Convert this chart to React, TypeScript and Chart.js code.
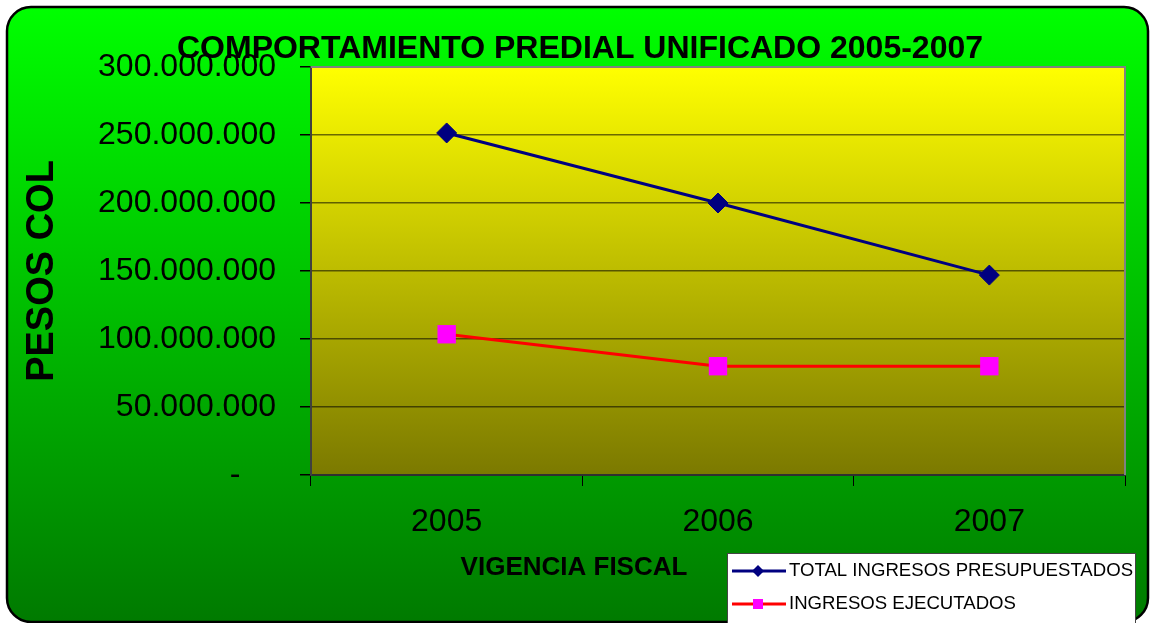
import React, { useEffect, useRef } from "react";
import { Chart, registerables } from "chart.js";

Chart.register(...registerables);

const categories = ["2005", "2006", "2007"];
const totalPresupuestado = [251500000, 200000000, 147000000];
const ingresosEjecutados = [103500000, 80000000, 80000000];
const yMin = 0;
const yMax = 300000000;
const yStep = 50000000;
const titleText = "COMPORTAMIENTO PREDIAL UNIFICADO 2005-2007";
const yTitleText = "PESOS COL";
const xTitleText = "VIGENCIA FISCAL";
const seriesLabels = ["TOTAL INGRESOS PRESUPUESTADOS", "INGRESOS EJECUTADOS"];

const FONT = '"Liberation Sans", Arial, sans-serif';
const W = 1151;
const H = 623;

function fmt(n: number): string {
  if (n === 0) return "-    ";
  return String(Math.round(n)).replace(/\B(?=(\d{3})+(?!\d))/g, ".");
}

function roundRect(ctx: CanvasRenderingContext2D, x: number, y: number, w: number, h: number, r: number) {
  ctx.beginPath();
  ctx.moveTo(x + r, y);
  ctx.lineTo(x + w - r, y);
  ctx.arcTo(x + w, y, x + w, y + r, r);
  ctx.lineTo(x + w, y + h - r);
  ctx.arcTo(x + w, y + h, x + w - r, y + h, r);
  ctx.lineTo(x + r, y + h);
  ctx.arcTo(x, y + h, x, y + h - r, r);
  ctx.lineTo(x, y + r);
  ctx.arcTo(x, y, x + r, y, r);
  ctx.closePath();
}

const decorPlugin = {
  id: "decor",
  beforeDraw(chart: any) {
    const ctx: CanvasRenderingContext2D = chart.ctx;
    ctx.save();
    ctx.fillStyle = "#ffffff";
    ctx.fillRect(0, 0, W, H);
    const g = ctx.createLinearGradient(0, 7, 0, 622);
    g.addColorStop(0, "#00ff00");
    g.addColorStop(1, "#007a00");
    roundRect(ctx, 7, 7, 1141, 615, 24);
    ctx.fillStyle = g;
    ctx.fill();
    ctx.lineWidth = 2.5;
    ctx.strokeStyle = "#000000";
    ctx.stroke();
    const a = chart.chartArea;
    const pg = ctx.createLinearGradient(0, a.top, 0, a.bottom);
    pg.addColorStop(0, "#ffff00");
    pg.addColorStop(1, "#7b7900");
    ctx.fillStyle = pg;
    ctx.fillRect(a.left, a.top, a.right - a.left, a.bottom - a.top);
    ctx.restore();
  },
  beforeDatasetsDraw(chart: any) {
    const ctx: CanvasRenderingContext2D = chart.ctx;
    const a = chart.chartArea;
    ctx.save();
    ctx.strokeStyle = "#808080";
    ctx.lineWidth = 2;
    ctx.beginPath();
    ctx.moveTo(a.left, a.top);
    ctx.lineTo(a.right, a.top);
    ctx.lineTo(a.right, a.bottom);
    ctx.stroke();
    ctx.restore();
  },
  afterDraw(chart: any) {
    const ctx: CanvasRenderingContext2D = chart.ctx;
    ctx.save();
    ctx.fillStyle = "#000000";
    // main title
    ctx.font = `bold 32px ${FONT}`;
    ctx.textAlign = "center";
    ctx.textBaseline = "alphabetic";
    ctx.fillText(titleText, 580, 58);
    // x title
    ctx.font = `bold 26px ${FONT}`;
    ctx.fillText(xTitleText, 574, 575);
    // y title
    ctx.save();
    ctx.translate(53, 271);
    ctx.rotate(-Math.PI / 2);
    ctx.font = `bold 38px ${FONT}`;
    ctx.fillText(yTitleText, 0, 0);
    ctx.restore();

    // legend
    const lx = 727, ly = 553, lw = 408, lh = 80;
    ctx.fillStyle = "#ffffff";
    ctx.fillRect(lx, ly, lw, lh);
    ctx.strokeStyle = "#444444";
    ctx.lineWidth = 1;
    ctx.strokeRect(lx + 0.5, ly + 0.5, lw, lh);
    const ds = chart.data.datasets;
    const rows = [571, 604];
    ds.forEach((d: any, i: number) => {
      const y = rows[i];
      ctx.strokeStyle = d.borderColor;
      ctx.lineWidth = 3;
      ctx.beginPath();
      ctx.moveTo(732, y);
      ctx.lineTo(786, y);
      ctx.stroke();
      ctx.fillStyle = d.pointBackgroundColor;
      ctx.beginPath();
      if (d.pointStyle === "rectRot") {
        const r = 6;
        ctx.moveTo(758 - r, y);
        ctx.lineTo(758, y - r);
        ctx.lineTo(758 + r, y);
        ctx.lineTo(758, y + r);
        ctx.closePath();
      } else {
        ctx.rect(753, y - 5, 10, 10);
      }
      ctx.fill();
      ctx.fillStyle = "#000000";
      ctx.font = `18.6px ${FONT}`;
      ctx.textAlign = "left";
      ctx.textBaseline = "middle";
      ctx.fillText(d.label, 789, y);
    });
    ctx.restore();
  },
};

export default function App() {
  const ref = useRef<HTMLCanvasElement | null>(null);
  useEffect(() => {
    if (!ref.current) return;
    const chart = new Chart(ref.current, {
      type: "line",
      data: {
        labels: categories,
        datasets: [
          {
            label: seriesLabels[0],
            data: totalPresupuestado,
            borderColor: "#000080",
            backgroundColor: "#000080",
            pointBackgroundColor: "#000080",
            pointBorderColor: "#000080",
            pointStyle: "rectRot",
            pointRadius: 10,
            pointBorderWidth: 1,
            borderWidth: 3,
            tension: 0,
          },
          {
            label: seriesLabels[1],
            data: ingresosEjecutados,
            borderColor: "#ff0000",
            backgroundColor: "#ff00ff",
            pointBackgroundColor: "#ff00ff",
            pointBorderColor: "#ff00ff",
            pointStyle: "rect",
            pointRadius: 13,
            pointBorderWidth: 0,
            borderWidth: 3,
            tension: 0,
          },
        ],
      },
      options: {
        animation: false,
        responsive: false,
        layout: { padding: { top: 67, right: 26, left: 0, bottom: 0 } },
        plugins: {
          legend: { display: false },
          title: { display: false },
          tooltip: { enabled: false },
        },
        scales: {
          x: {
            offset: true,
            grid: {
              offset: true,
              drawOnChartArea: false,
              drawTicks: true,
              tickLength: 11,
              color: "#000000",
              lineWidth: 1,
            },
            border: { color: "#303030", width: 2 },
            ticks: {
              color: "#000000",
              font: { family: FONT, size: 32 },
              padding: 17,
            },
            afterFit: (s: any) => {
              s.height = 148;
            },
          },
          y: {
            min: yMin,
            max: yMax,
            ticks: {
              stepSize: yStep,
              color: "#000000",
              font: { family: FONT, size: 32 },
              padding: 24,
              callback: (v: any) => fmt(Number(v)),
            },
            grid: {
              color: "rgba(0,0,0,0.55)",
              tickColor: "#000000",
              lineWidth: 1.5,
              tickLength: 11,
            },
            border: { color: "#404040", width: 2 },
            afterFit: (s: any) => {
              s.width = 311;
            },
          },
        },
      },
      plugins: [decorPlugin],
    });
    return () => chart.destroy();
  }, []);
  return (
    <div style={{ position: "absolute", left: 0, top: 0, width: W, height: H }}>
      <canvas ref={ref} width={W} height={H} style={{ display: "block", width: W, height: H }} />
    </div>
  );
}
